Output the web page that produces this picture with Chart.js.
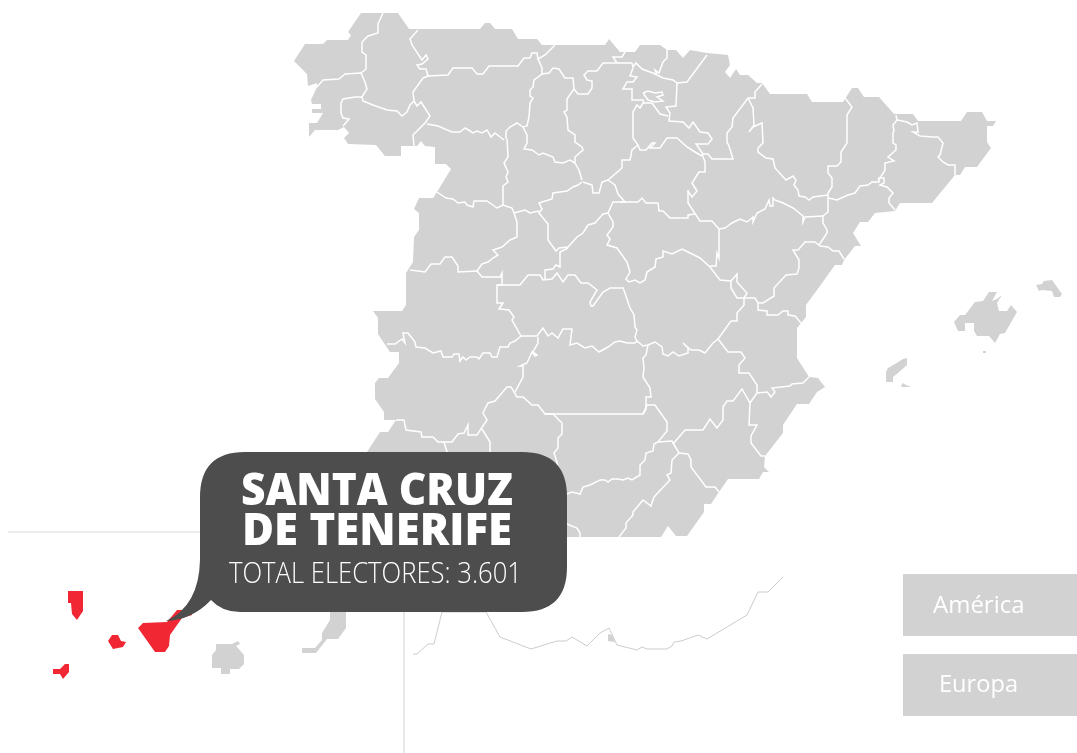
<!DOCTYPE html>
<html>
<head>
<meta charset="utf-8">
<title>Electores</title>
<script src="https://cdn.jsdelivr.net/npm/chart.js@4/dist/chart.umd.js"></script>
<style>
    html, body { margin: 0; padding: 0; background: #fff; overflow: hidden; }
    canvas { display: block; }
</style>
</head>
<body>
<canvas id="map" width="1077" height="753"></canvas>
<script>
const mainland = [
    [294,61],[305,44],[323,44],[327,40],[348,40],[351,35],[348,32],[361,13],[398,13],[409,29],[480,29],[485,23],[490,23],
    [495,29],[512,29],[518,39],[537,39],[542,45],[605,45],[609,39],[620,52],[635,52],[640,45],[660,45],[667,50],[676,50],
    [683,58],[690,50],[707,53],[728,55],[730,65],[725,72],[730,78],[736,69],[740,75],[748,75],[757,83],[762,83],[770,94],
    [807,94],[812,102],[843,102],[852,88],[858,88],[864,97],[879,97],[894,114],[913,114],[918,121],[961,121],[967,112],
    [982,112],[987,121],[996,121],[993,126],[987,126],[987,142],[991,148],[977,167],[965,167],[960,175],[955,175],[932,203],
    [900,203],[895,211],[875,213],[868,222],[860,222],[853,233],[861,246],[855,246],[844,260],[842,265],[835,265],[817,290],
    [806,305],[806,317],[797,328],[797,358],[809,377],[818,378],[825,387],[817,392],[809,404],[797,404],[783,425],[783,433],
    [765,456],[764,467],[769,472],[763,472],[759,479],[728,479],[719,492],[711,504],[704,504],[704,512],[687,536],[676,536],
    [668,526],[661,537],[400,537],[367,452],[380,432],[388,432],[396,420],[384,420],[384,412],[375,399],[375,383],[379,378],
    [388,378],[399,363],[399,352],[390,352],[378,334],[378,318],[373,311],[402,311],[406,305],[406,273],[413,262],[414,237],
    [419,230],[419,213],[414,209],[419,198],[433,198],[437,192],[451,169],[446,164],[435,164],[435,147],[425,146],[421,141],
    [417,146],[401,146],[401,156],[385,156],[376,145],[348,144],[344,138],[349,133],[344,127],[338,130],[315,130],[309,137],
    [309,123],[317,123],[323,113],[312,113],[312,109],[321,109],[321,104],[312,104],[311,100],[317,87],[317,83],[308,86],[307,74]
]

const borders = [
    [[383,13],[378,24],[378,33],[368,36],[362,42],[362,52],[366,55],[366,69],[361,73],[365,82],[367,89],[362,97]],
    [[361,73],[345,74],[339,79],[323,80],[317,87]],
    [[362,97],[355,97],[343,99],[341,103],[341,113],[343,118],[349,119],[343,126]],
    [[362,97],[363,101],[373,105],[387,110],[397,111],[402,116],[407,112],[410,105],[414,101]],
    [[418,30],[410,39],[412,45],[422,60],[426,55],[428,59],[422,64],[417,65],[420,69],[426,69],[428,76],[423,78],[413,92],[414,101]],
    [[414,101],[417,106],[421,102],[430,116],[425,123],[413,135],[414,146]],
    [[428,76],[448,75],[453,68],[472,68],[477,74],[483,74],[489,66],[518,66],[524,58],[530,58],[532,53],[537,53],[538,59],[545,55],[555,45]],
    [[538,59],[542,68],[542,74],[534,80],[533,87],[530,90],[530,96],[533,98],[530,103],[529,117],[527,126],[523,127],[517,123],[510,127],[506,131],[506,139]],
    [[427,124],[438,126],[452,132],[460,132],[465,128],[473,133],[477,131],[482,133],[487,130],[491,137],[495,133],[504,140]],
    [[507,139],[508,157],[504,163],[508,172],[506,177],[508,182],[503,186],[503,205]],
    [[437,192],[446,198],[453,199],[458,203],[465,202],[467,205],[473,207],[474,201],[487,201],[497,208],[503,205],[512,208],[514,213]],
    [[523,127],[527,135],[527,143],[524,149],[532,150],[539,155],[543,153],[553,157],[555,162],[563,163],[570,160],[575,163]],
    [[542,74],[549,73],[553,68],[559,69],[565,78],[573,78],[574,89],[567,99],[567,110],[564,112],[567,117],[568,130],[575,135],[575,142],[582,147],[583,150],[575,157],[575,163],[579,170],[582,180]],
    [[574,89],[578,94],[588,94],[592,88],[592,81],[587,80],[584,75],[588,71],[597,71],[603,63],[632,63]],
    [[625,52],[622,57],[613,57],[617,63]],
    [[632,63],[633,67],[636,63],[642,69],[653,73],[657,75],[655,70],[659,73],[663,62],[667,58],[667,50]],
    [[657,75],[663,78],[673,80],[677,83],[687,82],[707,55]],
    [[677,83],[676,106],[666,107],[670,113],[669,121],[683,122],[689,128],[693,122],[700,132],[708,133],[712,139],[708,144],[696,144],[703,154],[708,154],[712,159],[733,159],[729,146],[727,142],[727,133],[732,127],[733,118],[748,98],[755,98],[755,92],[762,84]],
    [[633,68],[630,76],[637,77],[633,82],[627,82],[623,89],[632,89],[632,100],[643,100],[644,103]],
    [[643,93],[648,91],[655,93],[662,92],[663,95],[657,97],[663,101],[655,102],[648,100],[643,93]],
    [[622,168],[622,160],[630,160],[632,150],[638,145],[633,138],[633,112],[637,105],[640,108],[643,103],[652,103],[660,114],[668,116]],
    [[748,98],[753,108],[754,125],[749,132],[753,127],[762,123],[763,143],[758,148],[758,152],[766,158],[773,159],[775,168],[786,180],[793,176],[796,180],[794,185],[798,190],[799,196],[805,197],[809,200],[813,197],[828,195]],
    [[845,98],[852,107],[847,115],[847,143],[841,152],[841,162],[837,166],[828,166],[828,173],[832,178],[832,187],[828,193],[828,212],[823,216],[823,223],[827,230],[827,233],[819,245]],
    [[896,115],[897,120],[893,125],[894,131],[893,133],[893,143],[896,145],[896,150],[888,157],[894,161],[885,163],[885,170],[882,175],[878,180]],
    [[897,120],[907,122],[912,125],[917,123],[918,132],[913,132],[920,136],[933,137],[938,137],[943,143],[940,155],[938,157],[943,162],[948,165],[955,165],[955,175]],
    [[828,198],[837,200],[848,195],[855,193],[860,186],[868,185],[872,182],[879,182],[879,178],[884,178],[884,183],[880,185],[887,187],[893,193],[889,198],[889,203],[895,210]],
    [[823,216],[805,217],[803,222],[803,216],[793,208],[783,203],[775,200],[773,198],[773,206],[770,206],[769,200],[765,209],[757,213],[753,222],[753,217],[747,222],[740,219],[732,223],[725,228],[719,229]],
    [[688,190],[688,203],[700,221],[712,221],[719,229],[719,258],[717,253],[716,266],[710,266]],
    [[702,154],[705,162],[705,172],[699,172],[692,183],[697,191],[692,197],[688,191]],
    [[638,145],[640,150],[646,150],[652,143],[655,143],[650,148],[660,148],[667,138],[677,138],[687,147],[695,152],[702,156]],
    [[583,182],[592,185],[593,193],[599,193],[602,182],[608,180],[622,168]],
    [[608,180],[615,185],[618,194],[625,202],[613,202],[608,213],[603,214],[595,223],[588,225],[583,233],[577,237],[568,247],[559,248],[556,251],[548,240],[548,224],[539,213],[542,209],[539,203],[552,199],[553,193],[567,191],[573,187],[578,185],[582,182]],
    [[514,213],[525,210],[530,213],[539,211]],
    [[620,202],[638,202],[642,198],[646,203],[658,203],[659,211],[663,211],[670,218],[688,218],[688,215],[695,214]],
    [[608,213],[613,222],[613,227],[607,235],[610,239],[607,245],[617,248],[627,262],[630,272],[626,279],[629,282]],
    [[629,282],[635,280],[640,283],[645,280],[647,272],[655,267],[656,259],[663,257],[663,251],[672,254],[682,249],[690,253],[700,258],[710,267],[720,280],[731,281],[731,288],[737,298],[744,298],[747,293],[737,282],[737,274],[731,281]],
    [[744,298],[755,298],[758,303],[763,303],[774,296],[774,288],[786,275],[797,274],[799,268],[799,260],[793,250],[798,250],[805,242],[815,242],[820,246],[828,247],[833,251],[839,251],[844,259]],
    [[758,303],[758,310],[767,311],[767,315],[778,315],[783,311],[788,311],[788,315],[795,316],[801,323]],
    [[744,298],[744,305],[737,313],[737,321],[731,321],[718,339],[728,352],[741,352],[745,358],[739,365],[739,373],[749,373],[757,385],[757,393],[750,403]],
    [[757,393],[767,392],[768,393],[771,397],[775,392],[772,388],[790,386],[792,384],[803,383],[809,377]],
    [[718,339],[713,343],[705,353],[699,350],[691,350],[683,343],[688,348],[688,353],[679,356],[673,352],[668,356],[663,354],[662,347],[655,342],[648,345],[643,346],[637,341],[635,343],[627,343],[620,341],[615,342],[608,347],[599,352],[592,346],[585,348],[577,343],[570,345],[572,329],[563,329],[558,338],[552,333],[548,336],[543,328],[537,336],[521,336],[512,320],[514,317],[509,310],[499,309],[503,303],[497,303],[497,285],[520,285],[528,275],[540,275],[543,280],[552,279],[557,273],[563,282],[568,275],[575,275],[581,283],[588,283],[597,290],[590,302],[591,306],[593,306],[603,292],[610,288],[623,288],[625,293],[630,308],[634,315],[635,327],[637,330],[635,337],[637,341]],
    [[648,345],[646,355],[643,358],[644,368],[643,377],[650,388],[651,397],[646,397],[646,409],[643,414]],
    [[497,285],[502,285],[502,273],[500,277],[482,277],[477,271],[482,264],[488,262],[493,258],[498,255],[493,250],[502,247],[510,240],[517,237],[517,222],[514,213]],
    [[410,270],[425,272],[431,264],[440,264],[445,257],[452,257],[458,266],[458,272],[477,271]],
    [[545,279],[545,270],[553,269],[556,265],[560,267],[560,252],[568,248]],
    [[387,344],[395,344],[402,339],[405,343],[403,333],[408,333],[415,342],[416,347],[425,348],[433,353],[441,351],[443,357],[452,357],[454,354],[459,354],[460,361],[463,357],[466,360],[470,357],[477,357],[479,359],[483,353],[490,353],[492,357],[497,357],[500,347],[508,347],[510,343],[515,341],[521,336]],
    [[538,337],[538,343],[533,352],[537,355],[535,356],[532,352],[527,363],[520,366],[523,366],[523,377],[515,392]],
    [[396,420],[404,420],[406,430],[421,432],[422,437],[433,437],[438,442],[452,442],[458,434],[464,433],[468,425],[468,435],[477,435],[487,420],[483,413],[488,403],[495,401],[507,387],[511,387],[517,397],[523,397],[532,405],[538,405],[545,414],[643,414],[647,405],[655,405],[667,422],[667,431],[658,442],[654,444],[653,451],[646,453],[645,460],[640,465],[640,475],[632,480],[628,478],[623,480],[618,479],[612,479],[608,482],[605,480],[600,480],[590,485],[583,487],[580,494],[572,492],[567,494],[560,490]],
    [[545,414],[553,414],[562,423],[562,434],[558,438],[558,448],[554,453],[557,462],[558,468]],
    [[444,442],[447,452],[448,460]],
    [[482,429],[490,442],[490,455]],
    [[658,442],[672,441],[679,453]],
    [[673,444],[685,430],[703,430],[710,419],[717,428],[723,420],[723,407],[727,401],[733,401],[742,389],[750,403],[749,425],[757,425],[751,436],[751,443],[761,456],[765,456]],
    [[679,453],[688,454],[691,460],[691,467],[706,487],[715,487],[719,492]],
    [[679,453],[672,460],[671,473],[667,475],[670,480],[654,497],[651,506],[643,500],[633,512],[633,515],[626,523],[626,528],[619,537]],
    [[560,522],[567,524],[577,528],[580,533],[580,537]]
]

const mallorca = [[954,322],[960,315],[965,315],[975,302],[983,301],[989,292],[997,292],[992,301],[997,299],[1002,295],[997,303],[999,311],[1007,311],[1011,305],[1017,312],[1005,333],[1000,334],[995,343],[989,336],[977,336],[974,331],[974,323],[965,323],[965,331],[958,331]]
const menorca = [[1036,285],[1042,284],[1044,281],[1052,280],[1062,294],[1060,297],[1054,297],[1052,291],[1042,290],[1039,291]]
const ibiza = [[886,372],[888,368],[895,364],[903,359],[907,358],[907,365],[898,373],[893,377],[893,382],[886,382]]
const formentera = [[901,386],[903,383],[906,385],[911,387],[907,387],[902,387]]
const cabrera = [[983,351],[986,351],[986,353],[983,353]]
const granCanaria = [[212,655],[216,650],[216,644],[232,644],[238,641],[240,644],[236,646],[244,655],[244,664],[239,669],[230,669],[230,674],[221,674],[221,668],[212,668]]
const fuerteventura = [[330,612],[346,612],[346,628],[338,639],[327,639],[316,653],[302,653],[302,648],[315,648],[322,640],[322,633],[330,620]]
const melilla = [[608,634],[612,635],[615,642],[608,641]]

const laPalma = [[68,591],[83,591],[83,611],[77,620],[72,614],[71,603],[68,603]]
const laGomera = [[108,641],[112,635],[118,635],[121,641],[126,642],[123,647],[113,649]]
const tenerife = [[138,628],[143,623],[167,622],[177,610],[192,610],[192,615],[182,618],[170,635],[169,646],[165,652],[155,652]]
const elHierro = [[53,669],[60,669],[65,664],[69,664],[69,672],[63,679],[60,674],[53,674]]

const moroccoCoast = [[413,654],[417,654],[428,644],[434,644],[442,612],[486,612],[500,637],[531,649],[557,641],[566,641],[572,637],[587,646],[600,633],[609,628],[617,645],[637,650],[642,647],[647,649],[667,649],[672,646],[674,642],[681,641],[698,635],[707,639],[747,615],[758,592],[768,592],[783,577]]
const frameH = [[8,532],[210,532]]
const frameV = [[404,600],[404,753]]

const grey = '#d2d2d2'
const red = '#f12833'
const dark = '#4d4d4d'

const titleLines = ['SANTA CRUZ', 'DE TENERIFE']
const subtitle = 'TOTAL ELECTORES: 3.601'
const buttons = ['América', 'Europa']

function toPoints(list) {
    return list.map(p => ({ x: p[0], y: p[1] }))
}

// the solid dash keeps chart.js off its fast path, that one merges points sharing an x
function shape(list, color) {
    return {
        data: toPoints(list),
        showLine: true,
        borderWidth: 0,
        borderColor: color,
        borderDash: [1000, 0],
        backgroundColor: color,
        pointRadius: 0,
        fill: 'shape',
        order: 3
    }
}

function stroke(list, color, width, order) {
    return {
        data: toPoints(list),
        showLine: true,
        borderWidth: width,
        borderColor: color,
        borderDash: [1000, 0],
        pointRadius: 0,
        fill: false,
        order: order
    }
}

// speech bubble and the two buttons go on top of the map
const overlay = {
    id: 'overlay',
    afterDatasetsDraw(chart) {
        const ctx = chart.ctx
        const sx = chart.scales.x
        const sy = chart.scales.y
        const px = v => sx.getPixelForValue(v)
        const py = v => sy.getPixelForValue(v)

        ctx.save()
        ctx.fillStyle = dark
        ctx.beginPath()
        ctx.moveTo(px(245), py(452))
        ctx.lineTo(px(522), py(452))
        ctx.quadraticCurveTo(px(567), py(452), px(567), py(497))
        ctx.lineTo(px(567), py(567))
        ctx.quadraticCurveTo(px(567), py(612), px(522), py(612))
        ctx.lineTo(px(240), py(612))
        ctx.quadraticCurveTo(px(222), py(612), px(211), py(600))
        ctx.quadraticCurveTo(px(192), py(620), px(166), py(621))
        ctx.quadraticCurveTo(px(199), py(606), px(200), py(560))
        ctx.lineTo(px(200), py(497))
        ctx.quadraticCurveTo(px(200), py(452), px(245), py(452))
        ctx.closePath()
        ctx.fill()

        ctx.fillStyle = '#fff'
        ctx.textAlign = 'center'
        ctx.textBaseline = 'alphabetic'
        ctx.font = '800 44px "Open Sans"'
        ctx.fillText(titleLines[0], px(377), py(505), 272)
        ctx.fillText(titleLines[1], px(377), py(545), 270)
        ctx.font = '300 29px "Open Sans"'
        ctx.fillText(subtitle, px(375.5), py(583), 293)

        ctx.fillStyle = grey
        ctx.fillRect(px(903), py(574), 174, 62)
        ctx.fillRect(px(903), py(654), 174, 62)
        ctx.fillStyle = '#fff'
        ctx.textAlign = 'left'
        ctx.font = '24px "Open Sans"'
        ctx.fillText(buttons[0], px(933), py(613), 92)
        ctx.fillText(buttons[1], px(939), py(692), 79)
        ctx.restore()
    }
}

const datasets = [shape(mainland, grey)]
borders.forEach(b => datasets.push(stroke(b, '#fff', 1.5, 2)))
;[mallorca, menorca, ibiza, formentera, cabrera, granCanaria, fuerteventura, melilla].forEach(s => datasets.push(shape(s, grey)))
;[laPalma, laGomera, tenerife, elHierro].forEach(s => datasets.push(shape(s, red)))
datasets.push(stroke(moroccoCoast, '#cccccc', 1, 1))
datasets.push(stroke(frameH, '#d9d9d9', 1.2, 1))
datasets.push(stroke(frameV, '#d9d9d9', 1.2, 1))

new Chart(document.getElementById('map').getContext('2d'), {
    type: 'scatter',
    data: { datasets: datasets },
    plugins: [overlay],
    options: {
        responsive: false,
        animation: false,
        layout: { padding: 0 },
        plugins: {
            legend: { display: false },
            tooltip: { enabled: false }
        },
        scales: {
            x: { type: 'linear', min: 0, max: 1077, display: false },
            y: { type: 'linear', min: 0, max: 753, reverse: true, display: false }
        }
    }
})
</script>
</body>
</html>
